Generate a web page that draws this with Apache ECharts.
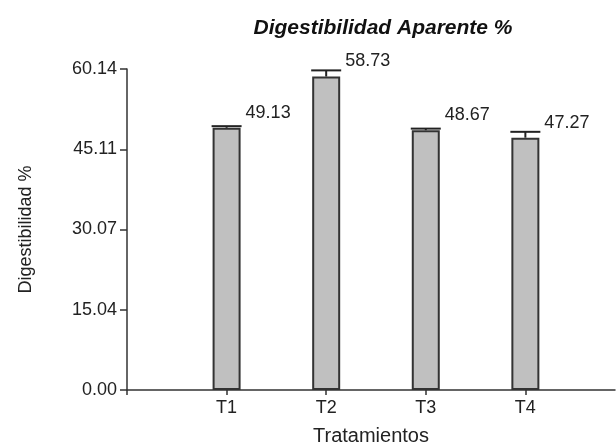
<!DOCTYPE html>
<html>
<head>
<meta charset="utf-8">
<script src="https://cdn.jsdelivr.net/npm/echarts@6/dist/echarts.min.js"></script>
<style>
  html, body { margin: 0; padding: 0; background: #fff; }
  #chart { width: 616px; height: 444px; }
</style>
</head>
<body>
<div id="chart"></div>
<script>
  // datos
  var categories = ['T1', 'T2', 'T3', 'T4']
  var means = [49.13, 58.73, 48.67, 47.27]
  var errors = [0.3, 1.15, 0.3, 1.1] // error estandar (estimado)
  var yTickLabels = ['0.00', '15.04', '30.07', '45.11', '60.14']
  var yMax = 60.14

  var barW = 28
  var font = 'Liberation Sans, Arial, sans-serif'
  var yStep = yMax / (yTickLabels.length - 1)

  // x como eje de valores: T1 en 1, T2 en 2 ...
  var barData = means.map(function(v, i) { return [i + 1, v] })
  var errData = means.map(function(v, i) { return [i + 1, v, errors[i]] })

  var chart = echarts.init(document.getElementById('chart'))
  var options = {
    animation: false,
    title: {
      text: 'Digestibilidad Aparente %',
      left: 378,
      top: 13,
      textAlign: 'center',
      textStyle: {
        fontFamily: font,
        fontSize: 21,
        fontWeight: 'bold',
        fontStyle: 'italic',
        color: '#111'
      }
    },
    grid: {
      left: 127,
      right: 1,
      top: 69,
      bottom: 54,
      containLabel: false,
      outerBoundsMode: 'none'
    },
    xAxis: {
      type: 'value',
      min: 0,
      max: 4.9,
      interval: 1,
      name: 'Tratamientos',
      nameLocation: 'middle',
      nameGap: 36,
      nameTextStyle: { fontFamily: font, fontSize: 20, color: '#222' },
      axisLine: { lineStyle: { color: '#333', width: 1.5 } },
      axisTick: { show: true, length: 5, lineStyle: { color: '#333', width: 1.5 } },
      axisLabel: {
        fontFamily: font,
        fontSize: 18,
        color: '#222',
        margin: 9,
        showMaxLabel: false,
        formatter: function(v) {
          return categories[Math.round(v) - 1] || ''
        }
      },
      splitLine: { show: false }
    },
    yAxis: {
      type: 'value',
      min: 0,
      max: yMax,
      interval: yStep,
      name: 'Digestibilidad %',
      nameLocation: 'middle',
      nameRotate: 90,
      nameGap: 92,
      nameTextStyle: { fontFamily: font, fontSize: 18, color: '#222' },
      axisLine: { show: true, lineStyle: { color: '#333', width: 1.5 } },
      axisTick: { show: true, length: 7, lineStyle: { color: '#333', width: 1.5 } },
      axisLabel: {
        fontFamily: font,
        fontSize: 18,
        color: '#222',
        margin: 10,
        formatter: function(v) {
          return yTickLabels[Math.round(v / yStep)]
        }
      },
      splitLine: { show: false }
    },
    series: [
      {
        name: 'media',
        type: 'bar',
        barWidth: barW,
        data: barData,
        itemStyle: {
          color: '#c0c0c0',
          borderColor: '#333',
          borderWidth: 2
        },
        label: {
          show: true,
          position: [barW + 5, -15],
          verticalAlign: 'middle',
          fontFamily: font,
          fontSize: 18,
          color: '#222',
          formatter: function(p) {
            return p.value[1].toFixed(2)
          }
        },
        z: 2
      },
      {
        name: 'error',
        type: 'custom',
        data: errData,
        z: 3,
        renderItem: function(params, api) {
          var x = api.value(0)
          var base = api.coord([x, api.value(1)])
          var top = api.coord([x, api.value(1) + api.value(2)])
          var half = barW / 2 + 1
          var style = { stroke: '#222', lineWidth: 2 }
          return {
            type: 'group',
            children: [
              { type: 'line', shape: { x1: base[0], y1: base[1], x2: top[0], y2: top[1] }, style: style },
              { type: 'line', shape: { x1: top[0] - half, y1: top[1], x2: top[0] + half, y2: top[1] }, style: style }
            ]
          }
        }
      }
    ]
  }
  chart.setOption(options)
</script>
</body>
</html>
